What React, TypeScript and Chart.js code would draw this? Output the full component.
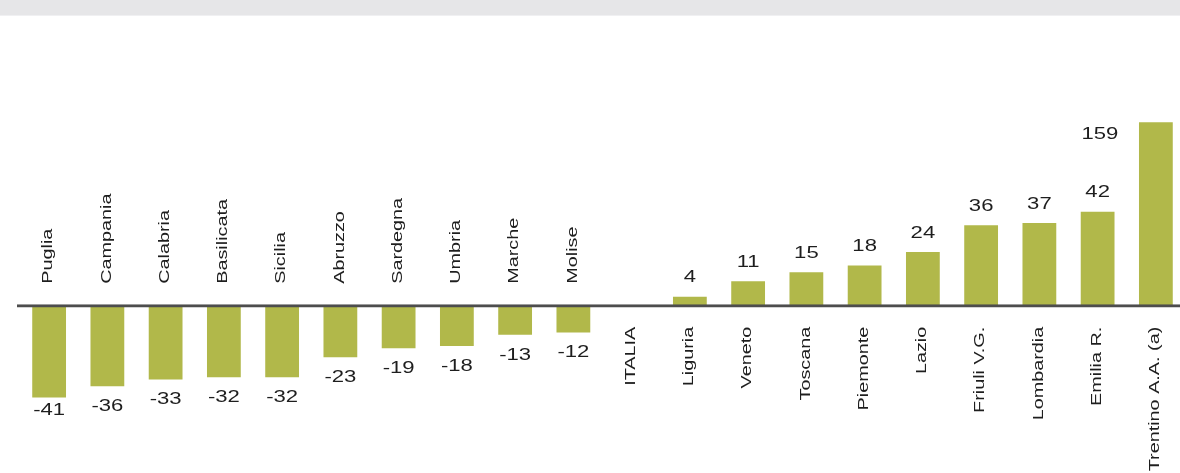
import React, { useEffect, useRef } from "react";
import { Chart, registerables } from "chart.js";

Chart.register(...registerables);

const categories = [
  "Puglia", "Campania", "Calabria", "Basilicata", "Sicilia", "Abruzzo", "Sardegna",
  "Umbria", "Marche", "Molise", "ITALIA", "Liguria", "Veneto", "Toscana", "Piemonte",
  "Lazio", "Friuli V.G.", "Lombardia", "Emilia R.", "Trentino A.A. (a)",
];
const values: (number | null)[] = [
  -41, -36, -33, -32, -32, -23, -19, -18, -13, -12, null, 4, 11, 15, 18, 24, 36, 37, 42, 159,
];
const axisMin = -60;
const axisMax = 100;
const barCap = 82; // bars above this value are drawn truncated (broken bar)

const BAR_COLOR = "#b1b84a";
const TEXT_COLOR = "#1e1e1e";

const labelsPlugin = {
  id: "customLabels",
  afterDatasetsDraw(chart: any) {
    const { ctx, chartArea } = chart;
    const meta = chart.getDatasetMeta(0);
    const yScale = chart.scales.y;
    const zeroY = yScale.getPixelForValue(0);

    // zero line
    ctx.save();
    ctx.fillStyle = "#4d4d4d";
    ctx.fillRect(17, zeroY - 1.3, chart.width, 2.8);
    ctx.restore();

    ctx.save();
    ctx.fillStyle = TEXT_COLOR;
    meta.data.forEach((bar: any, i: number) => {
      const v = values[i];
      const x = bar.x;
      // value label
      if (v !== null) {
        ctx.save();
        ctx.font = "17px 'Liberation Sans', Arial, sans-serif";
        ctx.textAlign = "center";
        ctx.textBaseline = "middle";
        let lx = x;
        let ly: number;
        if (v > barCap) {
          const step = (chartArea.right - chartArea.left) / categories.length;
          lx = x - step * 0.96;
          ly = bar.y + 12;
        } else if (v < 0) {
          ly = Math.min(bar.y + 20, chartArea.bottom - 30);
        } else {
          ly = bar.y - 19;
        }
        ctx.translate(lx, ly);
        ctx.scale(1.3, 1);
        ctx.fillText(String(v), 0, 0);
        ctx.restore();
      }
      // category label (rotated)
      ctx.save();
      ctx.font = "15px 'Liberation Sans', Arial, sans-serif";
      ctx.textBaseline = "middle";
      if (v !== null && v < 0) {
        ctx.translate(x - 1, zeroY - 22);
        ctx.rotate(-Math.PI / 2);
        ctx.textAlign = "left";
      } else {
        ctx.translate(x - 1, zeroY + 21);
        ctx.rotate(-Math.PI / 2);
        ctx.textAlign = "right";
      }
      ctx.scale(1.32, 1);
      ctx.fillText(categories[i], 0, 0);
      ctx.restore();
    });
    ctx.restore();
  },
};

export default function App() {
  const canvasRef = useRef<HTMLCanvasElement | null>(null);

  useEffect(() => {
    if (!canvasRef.current) return;
    const chart = new Chart(canvasRef.current, {
      type: "bar",
      data: {
        labels: categories,
        datasets: [
          {
            data: values.map((v) => (v === null ? null : Math.min(v, barCap))),
            backgroundColor: BAR_COLOR,
            borderWidth: 0,
            barPercentage: 0.58,
            categoryPercentage: 1,
          },
        ],
      },
      options: {
        responsive: false,
        animation: false,
        devicePixelRatio: 1,
        layout: { padding: { left: 20, right: 5, top: 82, bottom: 33 } },
        plugins: { legend: { display: false }, tooltip: { enabled: false } },
        scales: {
          x: { display: false, offset: true, grid: { display: false } },
          y: { display: false, min: axisMin, max: axisMax, grid: { display: false } },
        },
      },
      plugins: [labelsPlugin],
    });
    return () => chart.destroy();
  }, []);

  return (
    <div
      style={{
        position: "absolute",
        left: 0,
        top: 0,
        width: 1180,
        height: 473,
        overflow: "hidden",
        background: "#ffffff",
      }}
    >
      <canvas ref={canvasRef} width={1190} height={473} style={{ display: "block" }} />
      <div
        style={{
          position: "absolute",
          left: 0,
          top: 0,
          width: 1180,
          height: 15,
          background: "#e6e6e8",
          borderBottom: "1px solid #f0f0f2",
        }}
      />
    </div>
  );
}
